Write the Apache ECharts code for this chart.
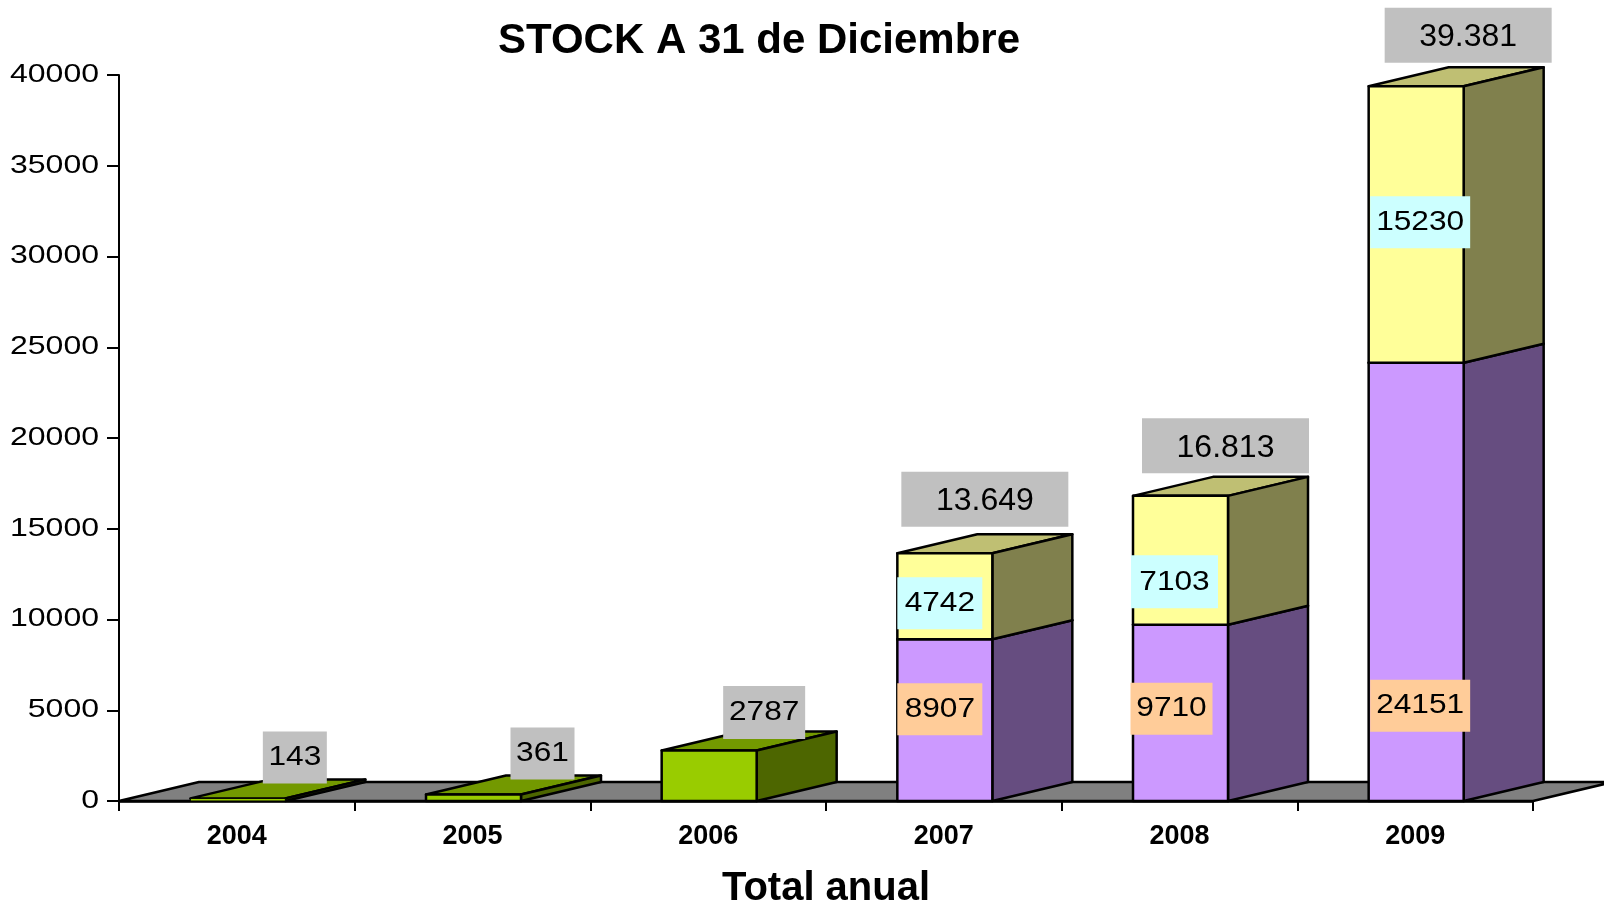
<!DOCTYPE html>
<html>
<head>
<meta charset="utf-8">
<title>STOCK A 31 de Diciembre</title>
<script src="https://cdn.jsdelivr.net/npm/echarts@6/dist/echarts.min.js"></script>
<style>
html,body{margin:0;padding:0;background:#fff;overflow:hidden;}
#main{width:1604px;height:901px;}
</style>
</head>
<body>
<div id="main"></div>
<script>
var categories = ['2004', '2005', '2006', '2007', '2008', '2009'];
var greenValues = [143, 361, 2787, null, null, null];
var purpleValues = [null, null, null, 8907, 9710, 24151];
var yellowValues = [null, null, null, 4742, 7103, 15230];
var totalValues = [143, 361, 2787, 13649, 16813, 39381];
var totalLabels = ['143', '361', '2787', '13.649', '16.813', '39.381'];
var yTicks = [0, 5000, 10000, 15000, 20000, 25000, 30000, 35000, 40000];

// depth of the fake 3d
var depthX = 80, depthY = -19;
var barWidth = 95;
var axisFont = 'Liberation Sans, Arial, sans-serif';

// boxes are placed by hand like in the original, offset from the top of the segment
// [dx, dy, w, h]
var totalBoxes = [[58, -41, 64, 52], [70, -41, 64, 52], [56, -38, 82, 53], [41, -54, 167, 55], [46, -50, 167, 55], [53, -51, 167, 55]];
var purpleBoxes = {3: [-4, 70, 85, 52], 4: [-8, 84, 82, 52], 5: [5, 343, 100, 52]};
var yellowBoxes = {3: [-4, 50, 85, 52], 4: [-5, 86, 87, 53], 5: [5, 136, 100, 52]};

function segments(values, bases) {
    var out = [];
    for (var i = 0; i < values.length; i++) {
        if (values[i] == null) continue;
        var b = bases ? bases[i] : 0;
        out.push([i, b, b + values[i]]);
    }
    return out;
}

function poly(points, color, width) {
    return {
        type: 'polygon',
        shape: {points: points},
        style: {fill: color, stroke: '#000', lineWidth: width || 2.5, lineJoin: 'round'}
    };
}

function barRenderer(front, side, top) {
    return function (params, api) {
        var bottom = api.coord([api.value(0), api.value(1)]);
        var upper = api.coord([api.value(0), api.value(2)]);
        var x0 = bottom[0] - barWidth / 2 + 1, x1 = x0 + barWidth;
        var y0 = bottom[1], y1 = upper[1];
        // very thin bars would be all border otherwise
        var frontWidth = y0 - y1 < 5 ? 1 : 2.5;
        return {
            type: 'group',
            children: [
                poly([[x0, y1], [x1, y1], [x1 + depthX, y1 + depthY], [x0 + depthX, y1 + depthY]], top),
                poly([[x1, y0], [x1 + depthX, y0 + depthY], [x1 + depthX, y1 + depthY], [x1, y1]], side),
                poly([[x0, y0], [x1, y0], [x1, y1], [x0, y1]], front, frontWidth)
            ]
        };
    };
}

function stretchedText(text, x, y, size, sx, align) {
    return {
        type: 'text',
        x: x,
        y: y,
        scaleX: sx,
        style: {
            text: text,
            x: 0,
            y: 0,
            fill: '#000',
            font: size + 'px ' + axisFont,
            textAlign: align,
            textVerticalAlign: 'middle'
        }
    };
}

// labels list: text, category, value the box hangs from, box, colour
var labelItems = [];
for (var i = 0; i < categories.length; i++) {
    labelItems.push({text: totalLabels[i], cat: i, val: totalValues[i], box: totalBoxes[i], color: '#c0c0c0', big: i > 2});
    if (purpleBoxes[i]) {
        labelItems.push({text: String(purpleValues[i]), cat: i, val: purpleValues[i], box: purpleBoxes[i], color: '#ffcc99'});
        labelItems.push({text: String(yellowValues[i]), cat: i, val: totalValues[i], box: yellowBoxes[i], color: '#ccffff'});
    }
}

var option = {
    backgroundColor: '#fff',
    animation: false,
    title: {
        text: 'STOCK A 31 de Diciembre',
        left: 754,
        top: 15,
        textAlign: 'center',
        textStyle: {color: '#000', fontSize: 42, fontWeight: 'bold', fontFamily: axisFont}
    },
    grid: {left: 119, top: 75, width: 1414, height: 726, outerBoundsMode: 'none'},
    xAxis: {
        type: 'category',
        data: categories,
        name: 'Total anual',
        nameLocation: 'middle',
        nameGap: 68,
        nameTextStyle: {color: '#000', fontSize: 40, fontWeight: 'bold', fontFamily: axisFont},
        axisLine: {lineStyle: {color: '#000', width: 2.5}},
        axisTick: {show: true, length: 10, lineStyle: {color: '#000', width: 2}},
        axisLabel: {color: '#000', fontSize: 27, fontWeight: 'bold', fontFamily: axisFont, margin: 22},
        z: 3
    },
    yAxis: {
        type: 'value',
        min: 0,
        max: 40000,
        interval: 5000,
        splitLine: {show: false},
        axisLine: {show: true, lineStyle: {color: '#000', width: 2}},
        axisTick: {show: true, length: 12, lineStyle: {color: '#000', width: 2}},
        axisLabel: {show: false},
        z: 3
    },
    series: [
        {
            // floor
            type: 'custom',
            z: 1,
            data: [[0, categories.length - 1]],
            renderItem: function (params, api) {
                var band = api.size([1, 0])[0];
                var a = api.coord([api.value(0), 0]);
                var b = api.coord([api.value(1), 0]);
                var l = a[0] - band / 2, r = b[0] + band / 2, y = a[1];
                return poly([[l, y], [r, y], [r + depthX, y + depthY], [l + depthX, y + depthY]], '#808080');
            }
        },
        {
            name: 'verde',
            type: 'custom',
            z: 4,
            data: segments(greenValues),
            renderItem: barRenderer('#99cc00', '#4d6600', '#739900')
        },
        {
            name: 'violeta',
            type: 'custom',
            z: 4,
            data: segments(purpleValues),
            renderItem: barRenderer('#cc99ff', '#664d80', '#9973bf')
        },
        {
            name: 'amarillo',
            type: 'custom',
            z: 5,
            data: segments(yellowValues, purpleValues),
            renderItem: barRenderer('#ffff99', '#80804d', '#bfbf73')
        },
        {
            // y tick labels, the original has them stretched sideways so they can't be axis labels
            type: 'custom',
            z: 6,
            data: yTicks.map(function (t) { return [0, t]; }),
            renderItem: function (params, api) {
                var p = api.coord([0, api.value(1)]);
                return stretchedText(String(api.value(1)), 99, p[1], 25, 1.28, 'right');
            }
        },
        {
            // value boxes
            type: 'custom',
            z: 7,
            data: labelItems.map(function (d) { return [d.cat, d.val]; }),
            renderItem: function (params, api) {
                var d = labelItems[params.dataIndex];
                var p = api.coord([api.value(0), api.value(1)]);
                var cx = p[0] + d.box[0], cy = p[1] + d.box[1], w = d.box[2], h = d.box[3];
                var label = d.big ? stretchedText(d.text, cx, cy + 2, 32, 1, 'center') : stretchedText(d.text, cx, cy, 28, 1.13, 'center');
                return {
                    type: 'group',
                    children: [
                        {
                            type: 'rect',
                            shape: {x: cx - w / 2, y: cy - h / 2, width: w, height: h},
                            style: {fill: d.color}
                        },
                        label
                    ]
                };
            }
        }
    ]
};

var chart = echarts.init(document.getElementById('main'));
chart.setOption(option);
</script>
</body>
</html>
